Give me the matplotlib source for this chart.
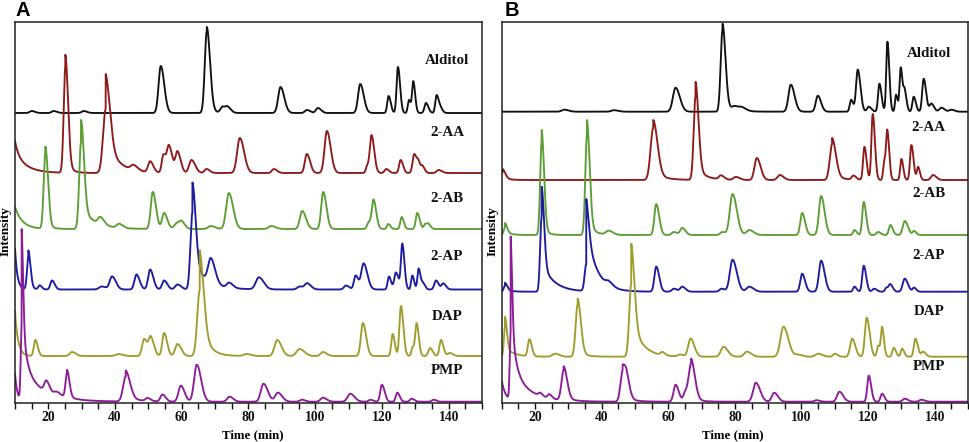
import numpy as np
import matplotlib
matplotlib.use("Agg")
import matplotlib.pyplot as plt

# ---------------- data ----------------
TIME_RANGE = (10, 150)
XTICK_LABELS = [20, 40, 60, 80, 100, 120, 140]
TRACE_NAMES = ["Alditol", "2-AA", "2-AB", "2-AP", "DAP", "PMP"]
TRACE_COLORS = ["#111111", "#8e1a1a", "#5c9e34", "#1c1ca0", "#a09c2c", "#8c1c98"]

# peaks: (retention time [min], height [a.u.], width [min]); tails: (start time, height, decay [min])
# ---- Panel A ----
A_ALDITOL_PEAKS = [(15, 2, 0.6), (21.6, 2, 0.6), (30.6, 2, 0.6), (53.7, 47, 0.65), (67.5, 82, 0.6),
                   (72.2, 6, 0.6), (73.8, 5, 0.6), (89.6, 26, 0.7), (97.5, 3, 0.6), (100.8, 5, 0.6),
                   (113.5, 29, 0.65), (122.0, 17, 0.4), (124.8, 46, 0.4), (128.1, 13, 0.35),
                   (129.4, 31, 0.35), (133.2, 10, 0.45), (136.4, 18, 0.4), (137.6, 4, 0.4)]
A_ALDITOL_TAILS = [(67.5, 4, 2.0)]
A_2AA_PEAKS = [(25.1, 106, 0.5), (37.2, 64, 0.8), (45.5, 5, 0.8), (50.5, 11, 0.6), (54.5, 18, 0.5),
               (56.2, 26, 0.6), (58.7, 21, 0.6), (62.9, 13, 0.7), (67.4, 4, 0.6), (77.4, 35, 0.8),
               (87.6, 4, 0.6), (97.5, 19, 0.6), (103.5, 42, 0.7), (115.6, 7, 0.4), (116.9, 37, 0.5),
               (121.3, 4, 0.5), (125.6, 13, 0.45), (129.7, 19, 0.5), (131.0, 8, 0.4), (132.2, 6, 0.4),
               (137, 3, 0.6)]
A_2AA_TAILS = [(10, 12, 1.0), (10, 20, 3.5), (25.1, 12, 1.5), (37.2, 35, 3.5)]
A_2AB_PEAKS = [(19.1, 76, 0.5), (29.8, 87, 0.55), (35.6, 7, 0.7), (41.2, 4, 0.7), (51.3, 37, 0.6),
               (54.7, 16, 0.6), (58.6, 6, 0.8), (60.0, 5, 0.6), (68.7, 3, 0.8), (74.1, 36, 0.8),
               (86.8, 3, 0.8), (96.1, 18, 0.7), (102.4, 37, 0.6), (116.1, 7, 0.5), (117.5, 28, 0.5),
               (121.9, 5, 0.4), (125.9, 12, 0.4), (130.6, 16, 0.45), (133.0, 5, 0.4), (134.0, 4, 0.4)]
A_2AB_TAILS = [(10, 22, 2.2), (19.1, 6, 1.5), (29.8, 22, 4.0)]
A_2AP_PEAKS = [(14.0, 33, 0.4), (17.4, 4, 0.4), (21.1, 9, 0.5), (36, 3, 0.8), (39.1, 13, 0.7),
               (46.4, 15, 0.6), (50.5, 20, 0.6), (54.7, 9, 0.6), (58.7, 5, 0.7), (63.2, 77, 0.6),
               (68.7, 24, 0.8), (74.2, 5, 0.7), (83.1, 12, 0.9), (95.3, 3, 0.7), (97.6, 6, 0.7),
               (109.2, 4, 0.6), (112.1, 14, 0.5), (114.5, 26, 0.7), (122.1, 13, 0.4), (124.2, 17, 0.5),
               (126.1, 45, 0.4), (129.1, 14, 0.35), (131.0, 21, 0.35), (132.3, 6, 0.4), (136.2, 9, 0.5),
               (138.4, 6, 0.5)]
A_2AP_TAILS = [(10, 41, 0.7), (14.0, 6, 1.0), (63.2, 30, 4.0)]
A_DAP_PEAKS = [(16.1, 16, 0.45), (27.1, 4, 0.7), (41, 2, 0.8), (48.7, 17, 0.6), (50.7, 18, 0.6),
               (54.7, 23, 0.55), (58.7, 12, 0.7), (65.4, 66, 0.75), (79.4, 2, 0.8), (88.6, 16, 0.8),
               (95.3, 7, 0.9), (102.3, 4, 0.7), (114.3, 33, 0.6), (123.2, 22, 0.4), (125.7, 50, 0.45),
               (129.2, 9, 0.35), (130.4, 32, 0.4), (134.4, 8, 0.5), (137.7, 16, 0.45), (140.3, 3, 0.6)]
A_DAP_TAILS = [(10, 45, 0.9), (65.4, 40, 2.2)]
A_PMP_PEAKS = [(12.0, 76, 0.28), (19.4, 11, 0.6), (22.5, 4, 0.8), (25.6, 25, 0.45), (43.2, 25, 0.8),
               (49.7, 3, 0.6), (54.2, 7, 0.6), (59.7, 16, 0.7), (64.5, 37, 0.8), (74.3, 5, 0.7),
               (84.5, 18, 0.8), (88.8, 9, 0.8), (96, 2, 0.6), (102.3, 4, 0.7), (110.5, 8, 0.8),
               (116.5, 2, 0.5), (120.0, 17, 0.5), (124.6, 9, 0.45), (128.9, 3, 0.5), (135.5, 2, 0.5)]
A_PMP_TAILS = [(10, 28, 0.7), (12.0, 60, 1.2), (12.0, 35, 6.0), (25.6, 3, 1.5), (43.2, 6, 3.0)]

# ---- Panel B ----
B_ALDITOL_PEAKS = [(28.8, 2, 0.8), (43.7, 1.5, 0.8), (62.2, 24, 0.8), (76.3, 82, 0.55), (80.0, 4, 0.8),
                   (82.2, 3, 0.8), (96.8, 27, 0.7), (104.9, 16, 0.6), (114.9, 12, 0.4), (116.9, 42, 0.5),
                   (120.2, 5, 0.5), (123.4, 28, 0.4), (125.8, 70, 0.35), (128.4, 17, 0.3), (129.8, 44, 0.35),
                   (131.0, 19, 0.35), (133.7, 15, 0.4), (136.7, 33, 0.45), (139.0, 8, 0.5), (142.0, 4, 0.6),
                   (145, 2, 0.6)]
B_ALDITOL_TAILS = [(76.3, 6, 3.0)]
B_2AA_PEAKS = [(10.3, 8, 0.5), (55.5, 52, 0.8), (68.2, 83, 0.55), (75.8, 4, 0.6), (80.3, 3, 0.7),
               (86.6, 22, 0.7), (93.5, 5, 0.7), (109.2, 36, 0.7), (115.6, 4, 0.5), (118.9, 33, 0.4),
               (121.4, 66, 0.4), (124.9, 19, 0.35), (125.8, 45, 0.35), (130.0, 21, 0.35),
               (133.0, 35, 0.4), (135.0, 13, 0.35), (139.5, 5, 0.6)]
B_2AA_TAILS = [(10.3, 3, 1.5), (55.5, 8, 3.0), (68.2, 15, 2.5), (109.2, 6, 2.5)]
B_2AB_PEAKS = [(11.0, 8, 0.4), (22.0, 93, 0.45), (35.6, 100, 0.5), (42.1, 4, 0.8), (56.4, 31, 0.55),
               (61.7, 3, 0.6), (64.2, 7, 0.6), (76.2, 3, 0.6), (79.3, 41, 0.8), (84.3, 5, 0.8),
               (100.2, 22, 0.55), (105.9, 39, 0.65), (115.9, 5, 0.4), (118.7, 33, 0.45), (123.0, 3, 0.5),
               (126.7, 10, 0.45), (131.0, 14, 0.6), (133.8, 4, 0.4)]
B_2AB_TAILS = [(11.0, 4, 1.5), (22.0, 12, 1.2), (35.6, 15, 1.8)]
B_2AP_PEAKS = [(11.0, 6, 0.4), (22.0, 75, 0.45), (35.4, 27, 0.5), (42.1, 4, 0.8), (56.4, 25, 0.55),
               (61.7, 3, 0.6), (64.2, 5, 0.6), (76.0, 3, 0.6), (79.3, 32, 0.8), (84.3, 5, 0.8),
               (100.2, 18, 0.55), (105.9, 31, 0.65), (115.9, 5, 0.4), (118.7, 26, 0.45), (121.8, 3, 0.5),
               (125.5, 4, 0.4), (126.7, 7, 0.45), (131.0, 13, 0.6), (133.8, 4, 0.4)]
B_2AP_TAILS = [(11.0, 3, 1.5), (22.0, 30, 3.5), (35.4, 65, 3.0)]
B_DAP_PEAKS = [(11.0, 30, 0.35), (18.3, 17, 0.45), (26.0, 3, 0.8), (32.8, 52, 0.6), (48.9, 73, 0.6),
               (58.2, 3, 0.5), (63.5, 2, 0.6), (66.7, 18, 0.7), (76.6, 10, 0.8), (83.6, 5, 0.8),
               (94.6, 30, 0.9), (99.0, 2, 0.8), (105.0, 3, 0.8), (110.0, 3, 0.5), (115.2, 18, 0.6),
               (119.6, 39, 0.55), (123.0, 11, 0.35), (124.2, 29, 0.35), (127.7, 9, 0.4), (130.2, 8, 0.4),
               (134.2, 18, 0.45), (136.5, 5, 0.5)]
B_DAP_TAILS = [(11.0, 10, 2.5), (32.8, 6, 2.0), (48.9, 40, 3.0)]
B_PMP_PEAKS = [(12.7, 68, 0.28), (21.5, 3, 0.5), (24.3, 4, 0.5), (28.6, 30, 0.65), (46.3, 30, 0.65),
               (47.6, 13, 0.6), (62.2, 17, 0.6), (65.2, 10, 0.6), (66.9, 36, 0.7), (86.3, 19, 0.8),
               (91.8, 9, 0.7), (104.5, 1.5, 0.6), (111.4, 10, 0.7), (120.2, 26, 0.45), (124.2, 8, 0.45),
               (131.0, 3, 0.6), (136.0, 2, 0.6)]
B_PMP_TAILS = [(10, 21, 1.2), (12.7, 60, 1.2), (12.7, 35, 5.0), (28.6, 4, 2.0), (46.3, 6, 2.5),
               (66.9, 5, 2.0)]

PANEL_A = [(A_ALDITOL_PEAKS, A_ALDITOL_TAILS), (A_2AA_PEAKS, A_2AA_TAILS), (A_2AB_PEAKS, A_2AB_TAILS),
           (A_2AP_PEAKS, A_2AP_TAILS), (A_DAP_PEAKS, A_DAP_TAILS), (A_PMP_PEAKS, A_PMP_TAILS)]
PANEL_B = [(B_ALDITOL_PEAKS, B_ALDITOL_TAILS), (B_2AA_PEAKS, B_2AA_TAILS), (B_2AB_PEAKS, B_2AB_TAILS),
           (B_2AP_PEAKS, B_2AP_TAILS), (B_DAP_PEAKS, B_DAP_TAILS), (B_PMP_PEAKS, B_PMP_TAILS)]

# ---------------- layout / style ----------------
A_OFFSETS = [290, 230, 174, 113.5, 47, 1.3]
B_OFFSETS = [291.3, 223, 168, 111.3, 46.3, 1.3]
A_LABEL_Y = [0.898, 0.709, 0.538, 0.384, 0.228, 0.085]
B_LABEL_Y = [0.918, 0.722, 0.551, 0.388, 0.240, 0.095]
TAIL_FACTOR = 1.6

W, H = 969, 442
SERIF = "Liberation Serif"
SANS = "Liberation Sans"

t = np.linspace(TIME_RANGE[0], TIME_RANGE[1], 5601)


def build_trace(peaks, tails):
    y = np.zeros_like(t)
    for t0, h, w in peaks:
        s = np.where(t < t0, w, w * TAIL_FACTOR)
        y += h * np.exp(-0.5 * ((t - t0) / s) ** 2)
    for t0, h, tau in tails:
        d = np.clip(t - t0, 0, None)
        y += np.where(t >= t0, h * np.exp(-d / tau), 0.0)
    return y


fig = plt.figure(figsize=(W / 100, H / 100), dpi=100)


def make_panel(rect, panel, offsets, label_y, ylim, label_x, letter, letter_x, ylab_x, xlab_x):
    ax = fig.add_axes(rect)
    for (peaks, tails), off, col, name, ly in zip(panel, offsets, TRACE_COLORS, TRACE_NAMES, label_y):
        ax.plot(t, off + build_trace(peaks, tails), color=col, lw=1.35, solid_joinstyle="round")
        ax.text(label_x, ly, name, transform=ax.transAxes, ha="center", va="center",
                family=SERIF, fontweight="bold", fontsize=10.8, color="#111111")
    ax.set_xlim(*TIME_RANGE)
    ax.set_ylim(*ylim)
    ax.set_yticks([])
    ax.set_xticks(XTICK_LABELS)
    ax.set_xticks(np.arange(10, 151, 5), minor=True)
    ax.tick_params(axis="x", which="both", direction="out", length=4, width=1.0, pad=2,
                   labelsize=9.8, colors="#111111")
    for lab in ax.get_xticklabels():
        lab.set_family(SERIF)
        lab.set_fontweight("bold")
    for sp in ax.spines.values():
        sp.set_linewidth(1.1)
        sp.set_color("#222222")
    fig.text(letter_x / W, 1 - 1 / H, letter, ha="left", va="top", family=SANS,
             fontweight="bold", fontsize=14.5)
    fig.text(ylab_x / W, 1 - 231 / H, "Intensity", rotation=90, ha="center", va="center",
             family=SERIF, fontweight="bold", fontsize=9.5)
    fig.text(xlab_x / W, 1 - 435 / H, "Time (min)", ha="center", va="center",
             family=SERIF, fontweight="bold", fontsize=9.3)
    return ax


make_panel([15 / W, 39 / H, 467 / W, 381 / H], PANEL_A, A_OFFSETS, A_LABEL_Y, (0, 381),
           0.925, "A", 16, 6, 253)
make_panel([501.7 / W, 39 / H, 466.3 / W, 381 / H], PANEL_B, B_OFFSETS, B_LABEL_Y, (0, 381),
           0.916, "B", 505, 493, 733)

fig.savefig("out.png", dpi=100)
